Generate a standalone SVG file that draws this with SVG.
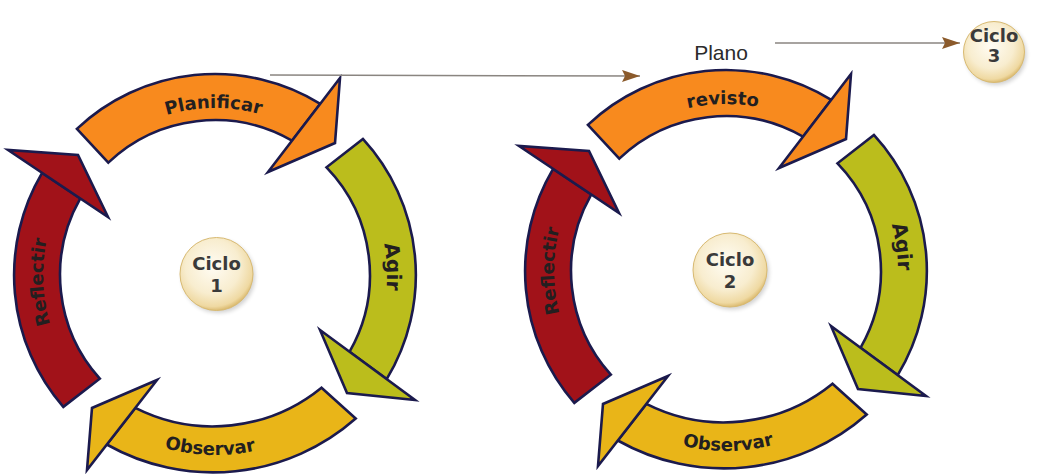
<svg xmlns="http://www.w3.org/2000/svg" width="1041" height="476" viewBox="0 0 1041 476">
<style>
.b{stroke:#1b1a4d;stroke-width:2.6;stroke-linejoin:miter;stroke-miterlimit:10}
.or{fill:#F88A1E}.gr{fill:#BBBD1C}.go{fill:#E9B518}.rd{fill:#A11219}
.lbl{font-family:"DejaVu Sans",Verdana,sans-serif;font-weight:bold;font-size:18px;fill:#231f20}
.big{font-size:20px}
.cic{font-family:"DejaVu Sans",Verdana,sans-serif;font-weight:bold;font-size:18px;fill:#3a3a3a;text-anchor:middle}
.ball{fill:url(#cg);stroke:#D8BA72;stroke-width:1}
.conn{stroke:#8a8580;stroke-width:1.5;fill:none}
</style>
<defs>
<radialGradient id="cg" cx="45%" cy="40%" r="62%">
<stop offset="0" stop-color="#FFFCF3"/>
<stop offset="0.6" stop-color="#F8EDCF"/>
<stop offset="0.88" stop-color="#EFD9A2"/>
<stop offset="1" stop-color="#D6B262"/>
</radialGradient>
<filter id="sh" x="-30%" y="-30%" width="160%" height="160%">
<feGaussianBlur stdDeviation="2"/>
</filter>
<marker id="ah" markerUnits="userSpaceOnUse" markerWidth="20" markerHeight="12" refX="18" refY="6" orient="auto">
<path d="M0,0 L18,6 L0,12 L3,6 Z" fill="#8B5A2B"/>
</marker>
<path id="pTop" d="M215 442 A167 167 0 1 1 215 108 A167 167 0 1 1 215 442"/>
<path id="pSide" d="M215 447 A172 172 0 1 1 215 103 A172 172 0 1 1 215 447"/>
<path id="pBot" d="M215 95 A180 180 0 1 0 215 455 A180 180 0 1 0 215 95"/>
</defs>
<rect width="1041" height="476" fill="#ffffff"/>

<g id="cycle1">
<g id="c1-planificar">
<path class="b or" d="M76.9 128.9 A201 201 0 0 1 320.3 103.8 L292 140.7 A155 155 0 0 0 108.3 162.6 Z"/>
<path class="b or" d="M340 78 L335 143 L268 172 Z"/>
<text class="lbl" text-anchor="middle"><textPath href="#pTop" startOffset="49.86%">Planificar</textPath></text>
</g>
<g id="c1-agir">
<path class="b gr" d="M362.9 138.9 A201 201 0 0 1 386.7 379.1 L349.5 351.8 A155 155 0 0 0 326.5 167.3 Z"/>
<path class="b gr" d="M320 330 L415 400 L347 393 Z"/>
<text class="lbl big" text-anchor="middle"><textPath href="#pSide" startOffset="74.25%">Agir</textPath></text>
</g>
<g id="c1-observar">
<path class="b go" d="M355.7 418.5 A216 216 0 0 1 106.8 444.5 L135.3 407.9 A172 172 0 0 0 321.5 387.7 Z"/>
<path class="b go" d="M157 380 L87 470 L92 408 Z"/>
<text class="lbl" text-anchor="middle"><textPath href="#pBot" startOffset="49.56%">Observar</textPath></text>
</g>
<g id="c1-reflectir">
<path class="b rd" d="M63.3 406.9 A201 201 0 0 1 42.1 172.8 L80.3 198.4 A155 155 0 0 0 99.8 378.7 Z"/>
<path class="b rd" d="M8 150 L108 217 L78 155 Z"/>
<text class="lbl" text-anchor="middle"><textPath href="#pSide" startOffset="24.36%">Reflectir</textPath></text>
</g>
</g>

<g id="cycle2" transform="translate(511,-4)">
<g id="c2-revisto">
<path class="b or" d="M76.9 128.9 A201 201 0 0 1 320.3 103.8 L292 140.7 A155 155 0 0 0 108.3 162.6 Z"/>
<path class="b or" d="M340 78 L335 143 L268 172 Z"/>
<text class="lbl" text-anchor="middle"><textPath href="#pTop" startOffset="49.7%">revisto</textPath></text>
</g>
<g id="c2-agir">
<path class="b gr" d="M362.9 138.9 A201 201 0 0 1 386.7 379.1 L349.5 351.8 A155 155 0 0 0 326.5 167.3 Z"/>
<path class="b gr" d="M320 330 L415 400 L347 393 Z"/>
<text class="lbl big" text-anchor="middle"><textPath href="#pSide" startOffset="72.8%">Agir</textPath></text>
</g>
<g id="c2-observar">
<path class="b go" d="M355.7 418.5 A216 216 0 0 1 106.8 444.5 L135.3 407.9 A172 172 0 0 0 321.5 387.7 Z"/>
<path class="b go" d="M157 380 L87 470 L92 408 Z"/>
<text class="lbl" text-anchor="middle"><textPath href="#pBot" startOffset="50.2%">Observar</textPath></text>
</g>
<g id="c2-reflectir">
<path class="b rd" d="M63.3 406.9 A201 201 0 0 1 42.1 172.8 L80.3 198.4 A155 155 0 0 0 99.8 378.7 Z"/>
<path class="b rd" d="M8 150 L108 217 L78 155 Z"/>
<text class="lbl" text-anchor="middle" font-size="19"><textPath href="#pSide" startOffset="25%">Reflectir</textPath></text>
</g>
</g>

<g id="ciclo1">
<circle cx="218.5" cy="276.5" r="36.5" fill="#000" opacity="0.18" filter="url(#sh)"/>
<circle class="ball" cx="216.5" cy="274" r="36.5"/>
<text class="cic" x="216.5" y="270">Ciclo</text>
<text class="cic" x="216.5" y="292">1</text>
</g>
<g id="ciclo2">
<circle cx="732" cy="272.5" r="37" fill="#000" opacity="0.18" filter="url(#sh)"/>
<circle class="ball" cx="730" cy="270" r="37"/>
<text class="cic" x="730" y="266">Ciclo</text>
<text class="cic" x="730" y="288">2</text>
</g>
<g id="ciclo3">
<circle cx="996" cy="54.5" r="30.5" fill="#000" opacity="0.18" filter="url(#sh)"/>
<circle class="ball" cx="994" cy="52" r="30.5"/>
<text class="cic" x="994" y="42">Ciclo</text>
<text class="cic" x="994" y="62">3</text>
</g>

<g id="connectors">
<line class="conn" x1="270" y1="75" x2="640" y2="76" marker-end="url(#ah)"/>
<line class="conn" x1="775" y1="43" x2="960" y2="43" marker-end="url(#ah)"/>
<text x="721" y="60" text-anchor="middle" font-family="Liberation Sans, Arial, sans-serif" font-size="21" fill="#2b2b2b">Plano</text>
</g>
</svg>
